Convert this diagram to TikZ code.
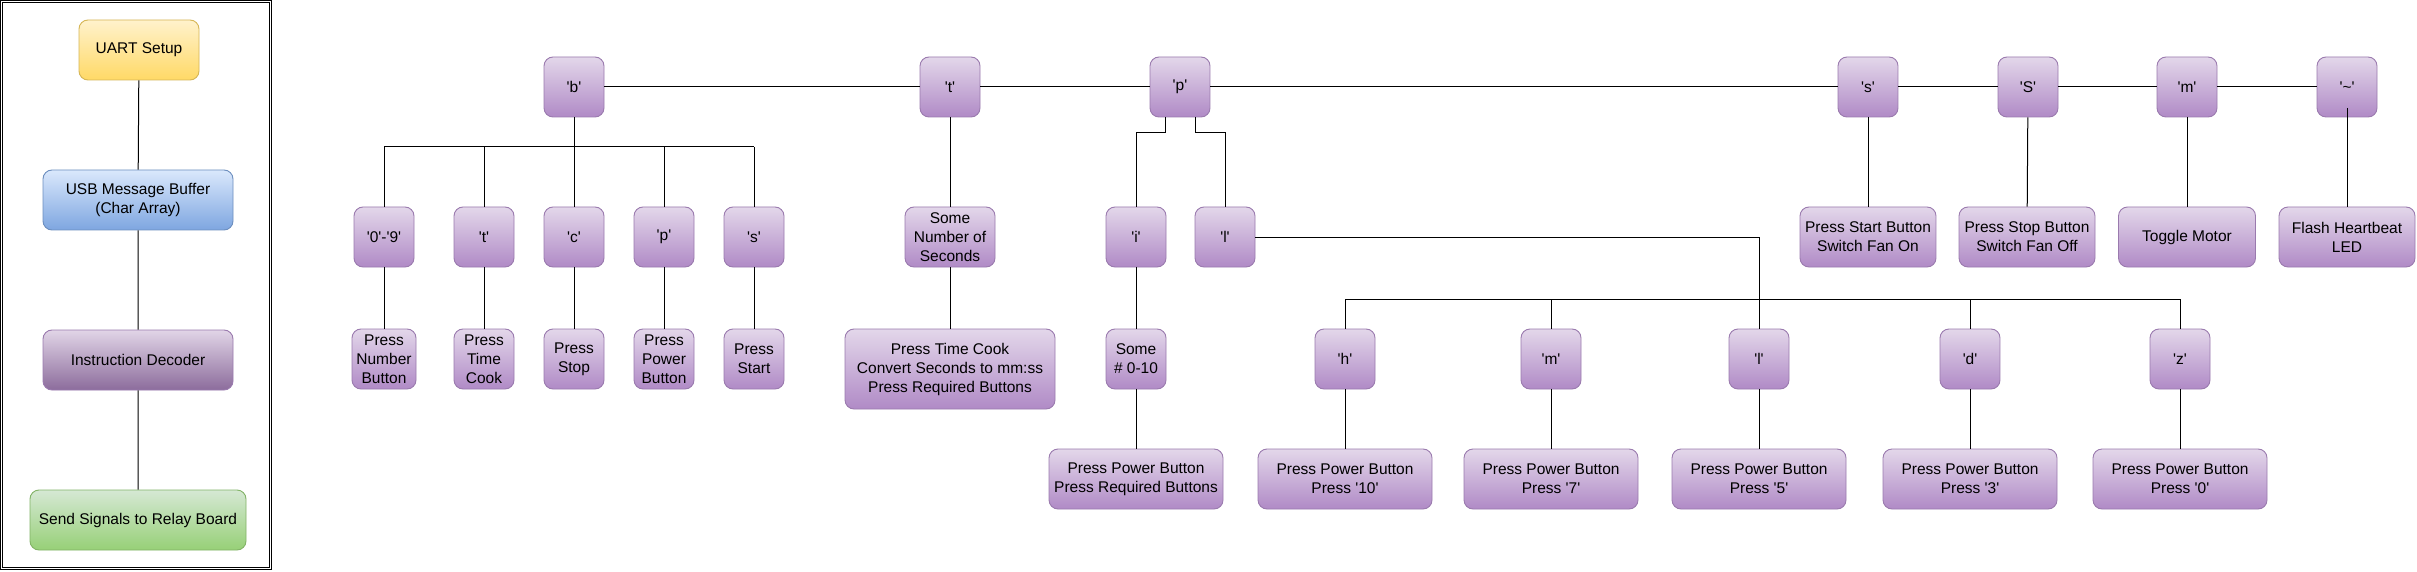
\documentclass[tikz,border=0pt]{standalone}
\usepackage{fontspec}
\setmainfont{Liberation Sans}
\newcommand{\sq}{\textquotesingle}
\definecolor{ptop}{HTML}{E3D7EA}
\definecolor{pbot}{HTML}{B08AC6}
\definecolor{pstroke}{HTML}{9A7AAE}
\definecolor{ytop}{HTML}{FFF2CC}
\definecolor{ybot}{HTML}{FFD966}
\definecolor{ystroke}{HTML}{D6B656}
\definecolor{btop}{HTML}{DAE8FC}
\definecolor{bbot}{HTML}{7EA6E0}
\definecolor{bstroke}{HTML}{6C8EBF}
\definecolor{dtop}{HTML}{E1D5E7}
\definecolor{dbot}{HTML}{8C6C9C}
\definecolor{gtop}{HTML}{D5E8D4}
\definecolor{gbot}{HTML}{97D077}
\definecolor{gstroke}{HTML}{82B366}
\begin{document}
\begin{tikzpicture}[x=1pt,y=-1pt,
  base/.style={rounded corners=9pt, line width=0.9pt, inner sep=0pt, align=center,
    font=\fontsize{15.5}{19}\selectfont, minimum height=60pt},
  pbox/.style={base, draw=pstroke, top color=ptop, bottom color=pbot, minimum width=#1},
  pbox/.default=60pt,
  conn/.style={line width=1pt, black}]
\fill[white] (0,0) rectangle (2417,572);
\useasboundingbox (0,0) rectangle (2417,572);
% left frame
\draw[line width=1pt] (0.5,0.5) rectangle (271.5,569.5);
\draw[line width=1pt] (2.5,2.5) rectangle (269.5,567.5);
\node[base, draw=ystroke, top color=ytop, bottom color=ybot, minimum width=120pt] (uart) at (139,50) {UART Setup};
\node[base, draw=bstroke, top color=btop, bottom color=bbot, minimum width=190pt] (usb) at (138,200) {USB Message Buffer\\(Char Array)};
\node[base, draw=pstroke, top color=dtop, bottom color=dbot, minimum width=190pt] (dec) at (138,360) {Instruction Decoder};
\node[base, draw=gstroke, top color=gtop, bottom color=gbot, minimum width=216pt] (send) at (138,520) {Send Signals to Relay Board};
\draw[conn] (uart) -- (usb) -- (dec) -- (send);
% top row
\node[pbox] (b) at (574,87) {\sq b\sq};
\node[pbox] (t) at (950,87) {\sq t\sq};
\node[pbox] (p) at (1180,87) {\sq p\sq};
\node[pbox] (ks) at (1868,87) {\sq s\sq};
\node[pbox] (kS) at (2028,87) {\sq S\sq};
\node[pbox] (km) at (2187,87) {\sq m\sq};
\node[pbox] (ktil) at (2347,87) {\sq\textasciitilde\sq};
\draw[conn] (b) -- (t) -- (p) -- (ks) -- (kS) -- (km) -- (ktil);
% b branch
\coordinate (busb) at (0,147);
\node[pbox] (b1) at (384,237) {\sq 0\sq-\sq 9\sq};
\node[pbox] (b2) at (484,237) {\sq t\sq};
\node[pbox] (b3) at (574,237) {\sq c\sq};
\node[pbox] (b4) at (664,237) {\sq p\sq};
\node[pbox] (b5) at (754,237) {\sq s\sq};
\node[pbox=64pt] (b1g) at (384,359) {Press\\Number\\Button};
\node[pbox] (b2g) at (484,359) {Press\\Time\\Cook};
\node[pbox] (b3g) at (574,359) {Press\\Stop};
\node[pbox] (b4g) at (664,359) {Press\\Power\\Button};
\node[pbox] (b5g) at (754,359) {Press\\Start};
\draw[conn] (b) -- (b |- busb);
\draw[conn] (b1 |- busb) -- (b5 |- busb);
\foreach \n in {b1,b2,b3,b4,b5} {
  \draw[conn] (\n |- busb) -- (\n);
  \draw[conn] (\n) -- (\n g);
}
% t branch
\node[pbox=90pt] (tc) at (950,237) {Some\\Number of\\Seconds};
\node[pbox=210pt, minimum height=80pt] (tcg) at (950,369) {Press Time Cook\\Convert Seconds to mm:ss\\Press Required Buttons};
\draw[conn] (t) -- (tc) -- (tcg);
% p branch
\node[pbox] (pi) at (1136,237) {\sq i\sq};
\node[pbox] (pl) at (1225,237) {\sq l\sq};
\node[pbox] (pig) at (1136,359) {Some\\\# 0-10};
\node[pbox=174pt] (pigg) at (1136,479) {Press Power Button\\Press Required Buttons};
\draw[conn] ([xshift=-15pt]p.south) -- ++(0,15) -| (pi);
\draw[conn] ([xshift=15pt]p.south) -- ++(0,15) -| (pl);
\draw[conn] (pi) -- (pig) -- (pigg);
\coordinate (busp) at (0,299);
\node[pbox] (pw1) at (1345,359) {\sq h\sq};
\node[pbox] (pw2) at (1551,359) {\sq m\sq};
\node[pbox] (pw3) at (1759,359) {\sq l\sq};
\node[pbox] (pw4) at (1970,359) {\sq d\sq};
\node[pbox] (pw5) at (2180,359) {\sq z\sq};
\node[pbox=174pt] (pw1g) at (1345,479) {Press Power Button\\Press \sq 10\sq};
\node[pbox=174pt] (pw2g) at (1551,479) {Press Power Button\\Press \sq 7\sq};
\node[pbox=174pt] (pw3g) at (1759,479) {Press Power Button\\Press \sq 5\sq};
\node[pbox=174pt] (pw4g) at (1970,479) {Press Power Button\\Press \sq 3\sq};
\node[pbox=174pt] (pw5g) at (2180,479) {Press Power Button\\Press \sq 0\sq};
\draw[conn] (pl) -- (pl -| pw3) -- (pw3 |- busp);
\draw[conn] (pw1 |- busp) -- (pw5 |- busp);
\foreach \n in {pw1,pw2,pw3,pw4,pw5} {
  \draw[conn] (\n |- busp) -- (\n);
  \draw[conn] (\n) -- (\n g);
}
% s, S, m, ~ branches
\node[pbox=136pt] (ksc) at (1868,237) {Press Start Button\\Switch Fan On};
\node[pbox=136pt] (kSc) at (2027,237) {Press Stop Button\\Switch Fan Off};
\node[pbox=137pt] (kmc) at (2187,237) {Toggle Motor};
\node[pbox=136pt] (ktilc) at (2347,237) {Flash Heartbeat\\LED};
\draw[conn] (ks) -- (ksc);
\draw[conn] (kS) -- (kSc);
\draw[conn] (km) -- (kmc);
\draw[conn] ([yshift=-21pt]ktil.center) -- (ktilc);
\end{tikzpicture}
\end{document}
